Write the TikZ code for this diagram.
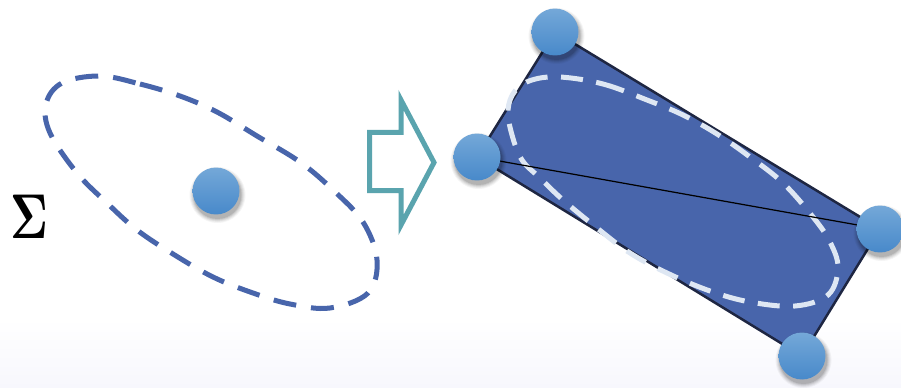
\documentclass[tikz,border=0pt]{standalone}
\usetikzlibrary{calc}
\definecolor{ellblue}{RGB}{72,101,171}
\definecolor{rectfill}{RGB}{72,101,171}
\definecolor{rectedge}{RGB}{30,38,66}
\definecolor{dottop}{RGB}{116,168,216}
\definecolor{dotbot}{RGB}{72,137,202}
\definecolor{arrowteal}{RGB}{90,164,174}
\definecolor{innerdash}{RGB}{222,231,243}
\definecolor{floorcol}{RGB}{247,247,253}
\tikzset{
  dotnode/.style={circle,inner sep=0pt,minimum size=0.94cm,top color=dottop,bottom color=dotbot,draw=none},
  outerdash/.style={draw=ellblue,line width=0.1cm,dash pattern=on 0.46cm off 0.3cm},
  innerdashed/.style={draw=innerdash,line width=0.1cm,dash pattern=on 0.44cm off 0.27cm},
  bigarrow/.style={draw=arrowteal,line width=0.1cm,line join=miter,miter limit=10},
}
\newcommand\dotshadow[1]{%
  \foreach \rr/\oo in {28/0.04,27/0.05,26/0.06,25/0.08,24/0.10}{%
    \fill[black,opacity=\oo] ($#1+(1.5,4)$) circle (\rr*0.02cm);}}
\begin{document}
\begin{tikzpicture}[x=0.02cm,y=-0.02cm]
\useasboundingbox (0,0) rectangle (901,388);
\fill[white] (0,0) rectangle (901,388);
\shade[top color=white,bottom color=floorcol,draw=none] (0,318) rectangle (901,388);

% Sigma
\node[inner sep=0pt] (sigma) at (29,217) {\scalebox{2.6}[3.6]{$\mathbf{\Sigma}$}};

% left dashed ellipse
\draw[outerdash] plot[smooth cycle,tension=0.6] coordinates {
 (100,76) (140,84) (180,96) (217,112) (257,136) (300,162) (333,190) (363,222)
 (377,260) (368,293) (330,308) (290,304) (253,293) (213,277) (173,254) (137,230)
 (107,203) (77,173) (50,133) (46,104) (62,83)};

% centre dot
\dotshadow{(216,191)}
\node[dotnode] (c) at (216,191) {};

% arrow
\draw[bigarrow] (369.5,132.5) -- (401,132.5) -- (401,100) -- (434,162.5)
  -- (401,225) -- (401,190.5) -- (369.5,190.5) -- cycle;

% rectangle corners
\coordinate (pT) at (555,32);
\coordinate (pL) at (477,157);
\coordinate (pR) at (880,229);
\coordinate (pB) at (802,356);
\draw[fill=rectfill,draw=rectedge,line width=0.05cm,line join=round] (pT) -- (pR) -- (pB) -- (pL) -- cycle;

% inner dashed shape
\draw[innerdashed] plot[smooth cycle,tension=0.6] coordinates {
 (560,77) (603,84) (647,100) (683,115) (717,134) (750,157) (783,183) (813,217)
 (830,242) (838,268) (828,295) (795,306) (750,302) (710,291) (667,273) (630,253)
 (597,228) (563,200) (540,178) (522,160) (512,135) (508,110) (515,91) (532,80)};

% diagonal line
\draw[black,line width=0.7pt] (pL) -- (pR);

% corner dots
\dotshadow{(pT)}
\node[dotnode] (dT) at (pT) {};
\dotshadow{(pL)}
\node[dotnode] (dL) at (pL) {};
\dotshadow{(pR)}
\node[dotnode] (dR) at (pR) {};
\dotshadow{(pB)}
\node[dotnode] (dB) at (pB) {};
\end{tikzpicture}
\end{document}
